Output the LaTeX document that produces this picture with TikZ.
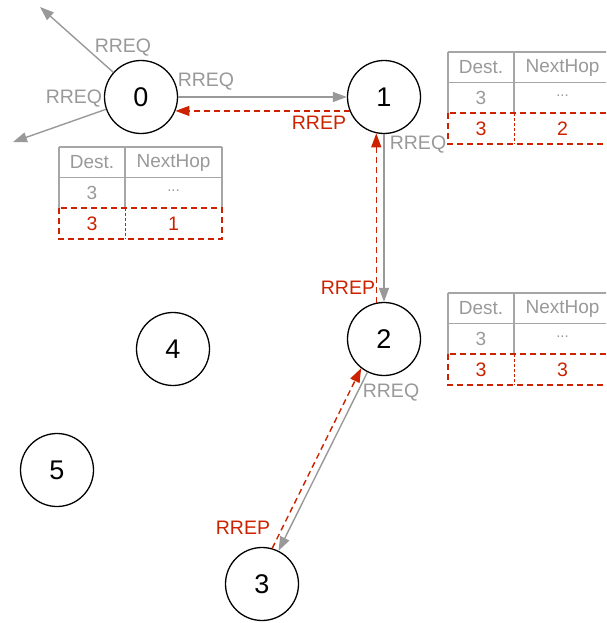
\documentclass[tikz,border=0pt]{standalone}
\usepackage{fontspec}
\setmainfont{Liberation Sans}
\usetikzlibrary{arrows.meta}
\definecolor{msggray}{HTML}{999999}
\definecolor{gridgray}{HTML}{A6A6A6}
\definecolor{replyred}{HTML}{CC2200}

% Routing table: name, left x, top y, next hop learned from the reply
\newcommand\routetable[4]{%
  \draw[tablegrid] (#2,#3) -- ++(163,0) (#2,#3+30.5) -- ++(163,0)
    (#2,#3) -- ++(0,61) (#2+66,#3) -- ++(0,61) (#2+163,#3) -- ++(0,61);
  \draw[tablerow] (#2,#3+61) rectangle ++(163,31);
  \draw[tablediv] (#2+66,#3+61) -- ++(0,31);
  \node[tabletext] (#1-dh) at (#2+33,#3+15.5) {Dest.};
  \node[tabletext] (#1-nh) at (#2+114.5,#3+15.5) {NextHop};
  \node[tabletext] (#1-d1) at (#2+33,#3+46) {3};
  \node[tabletext,font=\fontsize{15}{15}\selectfont] (#1-n1) at (#2+114.5,#3+44) {...};
  \node[tablenew] (#1-d2) at (#2+33,#3+76.5) {3};
  \node[tablenew] (#1-n2) at (#2+114.5,#3+76.5) {#4};
}

\begin{document}
\begin{tikzpicture}[x=1pt,y=-1pt,
  host/.style={circle,draw=black,line width=1.3pt,minimum size=73pt,inner sep=0pt,
    font=\fontsize{27}{27}\selectfont},
  req/.style={draw=msggray,line width=1.4pt,-{Triangle[length=14pt,width=10pt]}},
  rep/.style={draw=replyred,line width=1.4pt,dash pattern=on 6pt off 4pt,
    -{Triangle[length=14pt,width=10pt]}},
  reqlabel/.style={text=msggray,font=\fontsize{19.5}{19.5}\selectfont,inner sep=0pt},
  replabel/.style={text=replyred,font=\fontsize{19.5}{19.5}\selectfont,inner sep=0pt},
  tablegrid/.style={draw=gridgray,line width=1.3pt},
  tablerow/.style={draw=replyred,line width=1.3pt,dash pattern=on 6pt off 4pt},
  tablediv/.style={draw=replyred,line width=1pt,dash pattern=on 3pt off 2pt},
  tabletext/.style={text=msggray,font=\fontsize{19}{19}\selectfont,inner sep=0pt},
  tablenew/.style={text=replyred,font=\fontsize{19.5}{19.5}\selectfont,inner sep=0pt}]
\useasboundingbox (0,0) rectangle (606,623);
\clip (0,0) rectangle (606,623);

% hosts
\node[host] (n0) at (141,97) {0};
\node[host] (n1) at (384,97) {1};
\node[host] (n2) at (384,339) {2};
\node[host] (n3) at (262,584) {3};
\node[host] (n4) at (173,349) {4};
\node[host] (n5) at (57,470) {5};

% broadcast targets outside the picture
\coordinate (ul) at (40,7);
\coordinate (ll) at (13,142);

% route requests
\draw[req] (n0) -- (ul);
\draw[req] (n0) -- (ll);
\draw[req] (n0) -- (n1);
\draw[req] (n1) -- (n2);
\draw[req] (n2) -- (n3);

% route replies
\draw[rep] (n1.202) -- (n0.338);
\draw[rep] (n2.102) -- (n1.258);
\draw[rep] (n3.74.5) -- (n2.232.5);

% message labels
\node[reqlabel] (q1) at (123,48) {RREQ};
\node[reqlabel] (q2) at (74,99) {RREQ};
\node[reqlabel] (q3) at (206,82) {RREQ};
\node[reqlabel] (q4) at (418,145) {RREQ};
\node[reqlabel] (q5) at (391,393) {RREQ};
\node[replabel] (p1) at (319,123) {RREP};
\node[replabel] (p2) at (348,288) {RREP};
\node[replabel] (p3) at (243,528) {RREP};

% routing tables
\routetable{t0}{59}{147}{1}
\routetable{t1}{448}{52}{2}
\routetable{t2}{448}{293}{3}
\end{tikzpicture}
\end{document}
